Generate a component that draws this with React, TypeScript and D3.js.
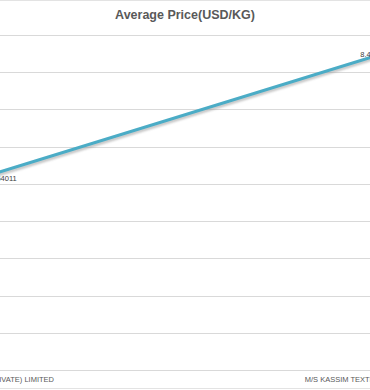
import React, { useEffect, useRef } from 'react';
import * as d3 from 'd3';

// chart data (only part of the original chart is visible in the crop)
const categories = ['GUL AHMED TEXTILE (PRIVATE) LIMITED', 'M/S KASSIM TEXTILES (PVT) LIMITED'];
const avgPrice = [5.164011, 8.41];
const priceLabels = ['5.164011', '8.410000'];
const yTicks = [0, 1, 2, 3, 4, 5, 6, 7, 8, 9];
const title = 'Average Price(USD/KG)';

const W = 370;
const H = 390;

const App = () => {
  const svgRef = useRef<SVGSVGElement | null>(null);

  useEffect(() => {
    const svg = d3.select(svgRef.current);
    svg.selectAll('*').remove();
    svg.attr('width', W).attr('height', H);

    const font = 'Liberation Sans, Arial, sans-serif';
    const textColor = '#595959';
    const lineColor = '#4bacc6';

    // plot area runs past the crop on both sides
    const x = d3.scalePoint<string>().domain(categories).range([-19, 372]);
    const y = d3.scaleLinear().domain([0, 9]).range([370, 35]);

    svg.append('rect').attr('width', W).attr('height', H).attr('fill', '#fff');

    // borders of the surrounding frame
    svg.append('line').attr('x1', 0).attr('x2', W).attr('y1', 0.5).attr('y2', 0.5)
      .attr('stroke', '#e3e3e3').attr('stroke-width', 1);
    svg.append('line').attr('x1', 0).attr('x2', W).attr('y1', 388.5).attr('y2', 388.5)
      .attr('stroke', '#e3e3e3').attr('stroke-width', 1);

    // title
    svg.append('text')
      .attr('x', 185)
      .attr('y', 19)
      .attr('text-anchor', 'middle')
      .style('font-family', font)
      .style('font-weight', 'bold')
      .style('font-size', '12.5px')
      .style('fill', textColor)
      .text(title);

    // gridlines
    svg.append('g')
      .selectAll('line')
      .data(yTicks)
      .enter()
      .append('line')
      .attr('x1', 0)
      .attr('x2', W)
      .attr('y1', (d) => Math.round(y(d)) + 0.5)
      .attr('y2', (d) => Math.round(y(d)) + 0.5)
      .attr('stroke', '#d9d9d9')
      .attr('stroke-width', 1);

    // category labels
    svg.append('g')
      .selectAll('text')
      .data(categories)
      .enter()
      .append('text')
      .attr('x', (d) => x(d) as number)
      .attr('y', 382)
      .attr('text-anchor', 'middle')
      .style('font-family', font)
      .style('font-size', '7.5px')
      .style('fill', textColor)
      .text((d) => d);

    const pts = categories.map((c, i) => [x(c) as number, y(avgPrice[i])] as [number, number]);
    const line = d3.line();

    // soft shadow under the line
    const defs = svg.append('defs');
    defs.append('filter')
      .attr('id', 'blur')
      .append('feGaussianBlur')
      .attr('stdDeviation', 1);

    svg.append('path')
      .attr('d', line(pts.map((p) => [p[0] + 1, p[1] + 2] as [number, number])))
      .attr('fill', 'none')
      .attr('stroke', '#9a9a9a')
      .attr('stroke-width', 3)
      .attr('opacity', 0.6)
      .attr('filter', 'url(#blur)');

    svg.append('path')
      .attr('d', line(pts))
      .attr('fill', 'none')
      .attr('stroke', lineColor)
      .attr('stroke-width', 3)
      .attr('stroke-linecap', 'round');

    // data labels
    svg.append('text')
      .attr('x', pts[0][0] + 5)
      .attr('y', pts[0][1] + 3)
      .style('font-family', font)
      .style('font-size', '7.5px')
      .style('fill', '#404040')
      .text(priceLabels[0]);

    svg.append('text')
      .attr('x', pts[1][0] + 4)
      .attr('y', pts[1][1])
      .attr('text-anchor', 'middle')
      .style('font-family', font)
      .style('font-size', '7.5px')
      .style('fill', '#404040')
      .text(priceLabels[1]);
  }, []);

  return (
    <div style={{ position: 'fixed', left: 0, top: 0, width: W, height: H, background: '#fff' }}>
      <svg ref={svgRef} style={{ display: 'block' }}></svg>
    </div>
  );
};

export default App;
